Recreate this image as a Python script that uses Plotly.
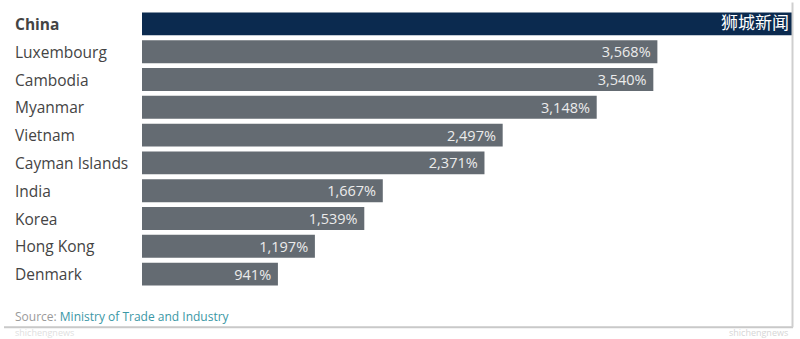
import plotly.graph_objects as go

countries = ["China", "Luxembourg", "Cambodia", "Myanmar", "Vietnam",
             "Cayman Islands", "India", "Korea", "Hong Kong", "Denmark"]
# China's bar runs off the frame and its label is hidden by a watermark; value estimated
values = [4500, 3568, 3540, 3148, 2497, 2371, 1667, 1539, 1197, 941]
value_labels = ["", "3,568%", "3,540%", "3,148%", "2,497%", "2,371%",
                "1,667%", "1,539%", "1,197%", "941%"]
bar_colors = ["#0b2a4f"] + ["#646b72"] * 9

W, H = 800, 339
L, R, T, B = 142, 8, 9.5, 50.5
pw = W - L - R
ph = H - T - B

def px_x(p):
    return (p - L) / pw

def px_y(p):
    return (H - B - p) / ph

fig = go.Figure(go.Bar(
    x=values, y=countries, orientation="h",
    marker=dict(color=bar_colors, line=dict(width=0)),
    text=[v + " " if v else "" for v in value_labels],
    textposition="inside", insidetextanchor="end",
    textfont=dict(family="Open Sans", size=14.5, color="#ececec"),
    constraintext="none", cliponaxis=True,
    hoverinfo="skip",
))

annotations = []
for c in countries:
    annotations.append(dict(
        x=px_x(13), xref="paper", y=c, yref="y", xanchor="left", yanchor="middle",
        text=("<b>%s</b>" % c) if c == "China" else c, showarrow=False,
        font=dict(family="Open Sans", size=15.5, color="#444444"),
    ))

annotations.append(dict(
    x=px_x(13), xref="paper", y=px_y(317), yref="paper", xanchor="left", yanchor="middle",
    text="<span style='color:#9a9a9a'>Source:</span> <span style='color:#3a97a5'>Ministry of Trade and Industry</span>",
    showarrow=False, font=dict(family="Open Sans", size=12),
))
annotations.append(dict(
    x=px_x(791), xref="paper", y=px_y(21), yref="paper", xanchor="right", yanchor="middle",
    text="狮城新闻", showarrow=False,
    font=dict(family="Noto Sans CJK SC", size=17, color="#ffffff"),
))
annotations.append(dict(
    x=px_x(790), xref="paper", y=px_y(333.5), yref="paper", xanchor="right", yanchor="middle",
    text="shichengnews", showarrow=False,
    font=dict(family="Open Sans", size=9, color="#d6d6d6"),
))
annotations.append(dict(
    x=px_x(13), xref="paper", y=px_y(333.5), yref="paper", xanchor="left", yanchor="middle",
    text="shichengnews", showarrow=False,
    font=dict(family="Open Sans", size=9, color="#e0e0e0"),
))

shapes = [
    dict(type="line", xref="paper", yref="paper", x0=px_x(4), x1=px_x(793),
         y0=px_y(328), y1=px_y(328), line=dict(color="#c9c9c9", width=2)),
    dict(type="line", xref="paper", yref="paper", x0=px_x(792.5), x1=px_x(792.5),
         y0=px_y(2), y1=px_y(328), line=dict(color="#cfcfcf", width=2)),
]

fig.update_layout(
    width=W, height=H,
    margin=dict(l=L, r=R, t=T, b=B, pad=0),
    paper_bgcolor="#ffffff", plot_bgcolor="#ffffff",
    bargap=0.175,
    showlegend=False,
    xaxis=dict(range=[0, 4500], visible=False, fixedrange=True),
    yaxis=dict(categoryorder="array", categoryarray=countries, autorange="reversed",
               showticklabels=False, showgrid=False, zeroline=False, ticks="",
               fixedrange=True),
    annotations=annotations,
    shapes=shapes,
    uniformtext=dict(mode=False),
)

fig.write_html("out.html", config={"displayModeBar": False})
